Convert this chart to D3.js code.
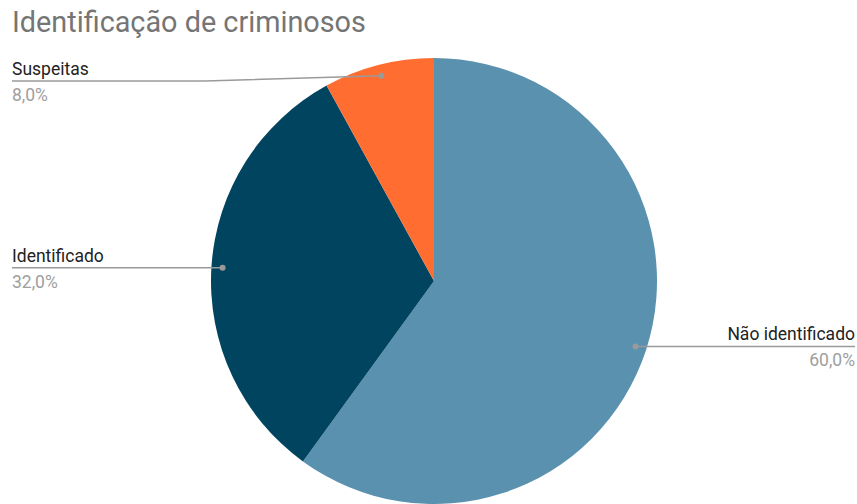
<!DOCTYPE html>
<html>
<head>
<meta charset="utf-8">
<script src="https://cdn.jsdelivr.net/npm/d3@7"></script>
<style>
  html, body { margin: 0; padding: 0; background: #fff; }
  svg { display: block; font-family: Roboto, "Liberation Sans", Arial, sans-serif; }
</style>
</head>
<body>
<svg id="chart" width="857" height="504"></svg>
<script>
// Chart data
const categories = ["Não identificado", "Identificado", "Suspeitas"];
const values = [60, 32, 8];
const valueLabels = ["60,0%", "32,0%", "8,0%"];
const colors = ["#5991af", "#00445f", "#ff6d31"];
const title = "Identificação de criminosos";

const width = 857, height = 504;
const cx = 434, cy = 281, radius = 223;

const svg = d3.select("#chart");

svg.append("text")
  .attr("x", 12)
  .attr("y", 32)
  .attr("font-size", 28.8)
  .attr("fill", "#757575")
  .text(title);

const pie = d3.pie().sort(null).value(d => d)(values);
const arc = d3.arc().innerRadius(0).outerRadius(radius);
const dotArc = d3.arc().innerRadius(radius * 0.95).outerRadius(radius * 0.95);

const g = svg.append("g").attr("transform", `translate(${cx},${cy})`);

g.selectAll("path.slice")
  .data(pie)
  .join("path")
  .attr("class", "slice")
  .attr("d", arc)
  .attr("fill", (d, i) => colors[i]);

// Label placement per slice: side and label line height
const labelSpec = [
  { side: "right", x: 855 },
  { side: "left", x: 12 },
  { side: "left", x: 12, lineY: 81, bendX: 205 }
];

pie.forEach((d, i) => {
  const [dx, dy] = dotArc.centroid(d);
  const px = cx + dx, py = cy + dy;
  const spec = labelSpec[i];
  const ly = spec.lineY !== undefined ? spec.lineY : py;
  let points;
  if (spec.bendX !== undefined) {
    points = [[px, py], [spec.bendX, ly], [spec.x, ly]];
  } else {
    points = [[px, py], [spec.x, ly]];
  }
  svg.append("path")
    .attr("d", d3.line()(points))
    .attr("fill", "none")
    .attr("stroke", "#9a9a9a")
    .attr("stroke-width", 1.5);
  svg.append("circle")
    .attr("cx", px).attr("cy", py).attr("r", 3)
    .attr("fill", "#9a9a9a");

  const anchor = spec.side === "right" ? "end" : "start";
  svg.append("text")
    .attr("x", spec.x)
    .attr("y", ly - 6)
    .attr("text-anchor", anchor)
    .attr("font-size", 17.5)
    .attr("fill", "#222")
    .text(categories[i]);
  svg.append("text")
    .attr("x", spec.x)
    .attr("y", ly + 20)
    .attr("text-anchor", anchor)
    .attr("font-size", 17.5)
    .attr("fill", "#9e9e9e")
    .text(valueLabels[i]);
});
</script>
</body>
</html>
